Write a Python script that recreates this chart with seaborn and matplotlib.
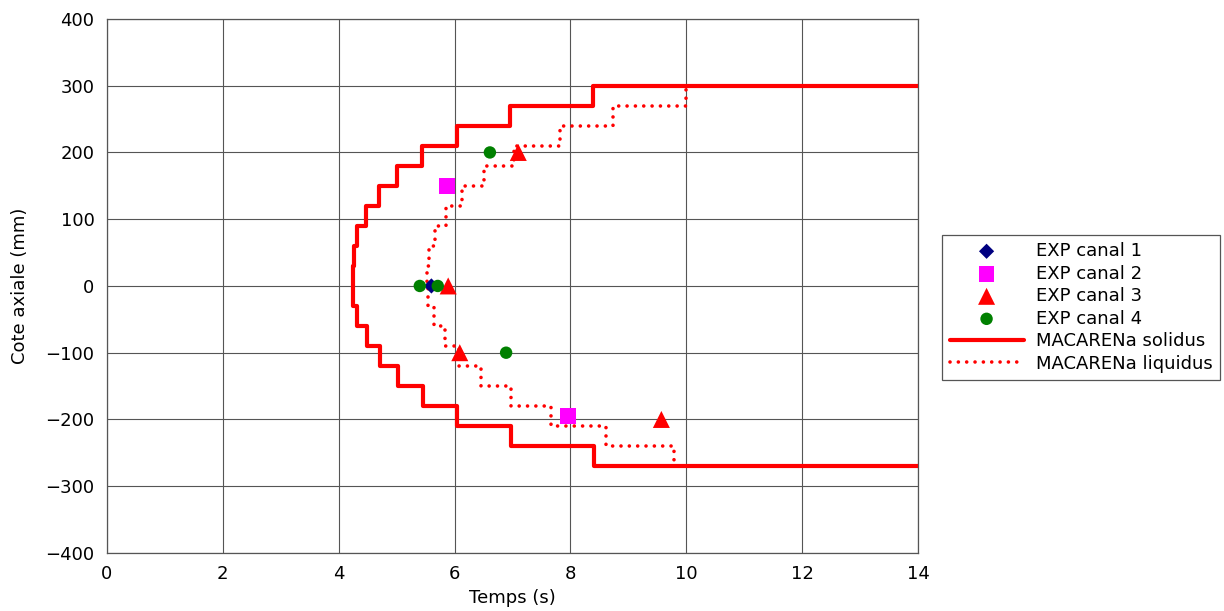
import numpy as np
import pandas as pd
import matplotlib
matplotlib.use('Agg')
import matplotlib.pyplot as plt
import seaborn as sns

# axial levels of the staircase (mm) and x of each vertical segment between consecutive levels
levels = list(range(-270, 301, 30))
solidus_x = [8.41, 6.98, 6.04, 5.45, 5.03, 4.72, 4.48, 4.31, 4.24,
             4.24, 4.26, 4.32, 4.47, 4.70, 5.00, 5.43, 6.04, 6.96, 8.39]
liquidus_x = [9.78, 8.61, 7.66, 6.97, 6.45, 6.08, 5.83, 5.65, 5.55,
              5.53, 5.56, 5.66, 5.85, 6.13, 6.51, 7.03, 7.82, 8.74, 10.0]
t_end = 14.0

# experimental points
exp1_t = [5.60]
exp1_z = [0]
exp2_t = [5.87, 7.96]
exp2_z = [150, -195]
exp3_t = [5.89, 7.10, 6.09, 9.57]
exp3_z = [0, 200, -100, -200]
exp4_t = [5.40, 5.71, 6.61, 6.89]
exp4_z = [0, 0, 200, -100]


def staircase(xs):
    # points for steps-pre: start at t_end on the bottom level, end at t_end on the top level
    x = [t_end] + list(xs) + [t_end]
    y = [levels[0]] + levels[:-1] + [levels[-1]]
    return pd.DataFrame({'t': x, 'z': y})


sol = staircase(solidus_x)
liq = staircase(liquidus_x)

sns.set_style('white')
plt.rcParams['font.family'] = ['DejaVu Sans']
plt.rcParams['text.color'] = 'black'
plt.rcParams['axes.labelcolor'] = 'black'
plt.rcParams['xtick.color'] = 'black'
plt.rcParams['ytick.color'] = 'black'

fig = plt.figure(figsize=(12.24, 6.11), dpi=100)
ax = fig.add_axes([0.0874, 0.095, 0.6626, 0.874])

sns.scatterplot(x=exp1_t, y=exp1_z, marker='D', s=60, color='#000080', edgecolor='none',
                label='EXP canal 1', ax=ax, zorder=4)
sns.scatterplot(x=exp2_t, y=exp2_z, marker='s', s=130, color='#ff00ff', edgecolor='none',
                label='EXP canal 2', ax=ax, zorder=4)
sns.scatterplot(x=exp3_t, y=exp3_z, marker='^', s=150, color='#ff0000', edgecolor='none',
                label='EXP canal 3', ax=ax, zorder=4)
sns.scatterplot(x=exp4_t, y=exp4_z, marker='o', s=80, color='#008000', edgecolor='none',
                label='EXP canal 4', ax=ax, zorder=5)
sns.lineplot(data=sol, x='t', y='z', sort=False, estimator=None, drawstyle='steps-pre',
             color='#ff0000', linewidth=3.0, label='MACARENa solidus', ax=ax, zorder=3)
sns.lineplot(data=liq, x='t', y='z', sort=False, estimator=None, drawstyle='steps-pre',
             color='#ff0000', linewidth=2.6, linestyle=(0, (0.01, 2.3)), dash_capstyle='round',
             label='MACARENa liquidus', ax=ax, zorder=3)

ax.set_xlim(0, 14)
ax.set_ylim(-400, 400)
ax.set_xticks(range(0, 15, 2))
ax.set_yticks(range(-400, 401, 100))
ax.grid(True, color='#555555', linewidth=0.8)
ax.set_axisbelow(True)
for sp in ax.spines.values():
    sp.set_color('#555555')
    sp.set_linewidth(0.9)
ax.tick_params(direction='out', length=6, width=0.8, color='#555555', labelcolor='black',
               labelsize=13, pad=3)
ax.set_xlabel('Temps (s)', fontsize=13, color='black')
ax.set_ylabel('Cote axiale (mm)', fontsize=13, color='black', labelpad=12)

h, l = ax.get_legend_handles_labels()
leg = ax.legend(h, l, loc='center left', bbox_to_anchor=(1.03, 0.46), fontsize=13,
                frameon=True, fancybox=False, edgecolor='#555555', framealpha=1,
                borderaxespad=0, handlelength=4.1, handletextpad=0.7,
                labelspacing=0.25, borderpad=0.4)
leg.get_frame().set_linewidth(0.9)
for t in leg.get_texts():
    t.set_color('black')

plt.savefig('out.png', dpi=100)
